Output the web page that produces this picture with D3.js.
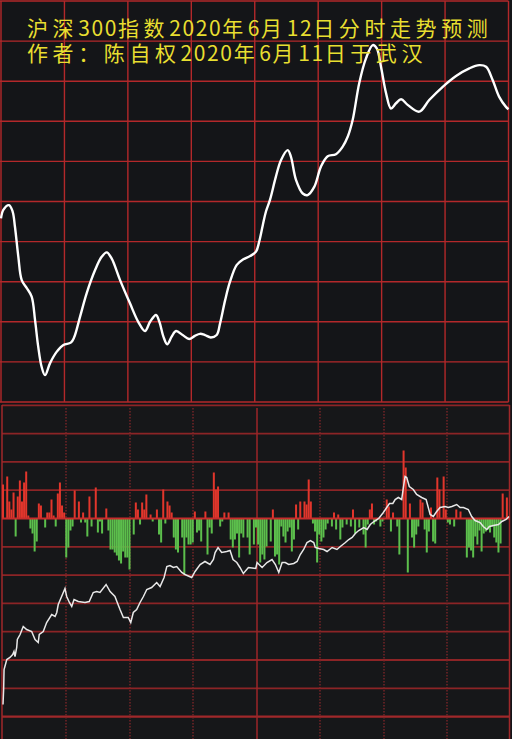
<!DOCTYPE html>
<html><head><meta charset="utf-8">
<script src="https://cdn.jsdelivr.net/npm/d3@7"></script>
<style>html,body{margin:0;padding:0;background:#141518;}svg{display:block;}</style>
</head><body>
<script>
// ---- DATA ----
const titleLines = ["沪深300指数2020年6月12日分时走势预测", "作者：陈自权2020年6月11日于武汉"];
// top panel: forecast curve (minute of session, level in grid units)
const curveMinutes = [0,1.1,3.8,5.5,6.6,8.2,9.8,12.2,14.5,16.1,17.6,19.2,20.8,23.2,26.3,29.5,33,34.5,37.4,40.5,44.5,47.6,50,52.3,56.3,61,64.9,68.1,70.5,73.3,74.9,76.8,78.6,80.7,82.8,85.9,89,91.7,94.1,96.5,99.2,102,103.6,106,108.3,111.5,114.6,117.8,120.6,122.1,123.8,125.3,127.2,130,132.4,135.6,137.1,139.5,142.7,145,148.2,151.3,154.5,158.4,161.6,164,166.3,169.4,172.6,175.8,177.7,179.7,182.1,184.4,186.8,189.2,192.3,197.8,202.5,208.9,215.2,221.5,226.2,229.4,232.5,235.6,238.8,240];
const curveValues = [4.58,4.79,4.91,4.75,4.37,3.62,3.04,2.84,2.63,2.04,1.38,0.88,0.67,0.97,1.25,1.42,1.48,1.60,2.13,2.71,3.29,3.62,3.73,3.58,3.04,2.46,2.00,1.77,2.00,2.17,2.00,1.63,1.44,1.63,1.77,1.67,1.57,1.65,1.70,1.67,1.61,1.67,1.96,2.54,3.00,3.42,3.56,3.64,3.75,4.00,4.41,4.75,5.04,5.62,6.03,6.28,6.12,5.54,5.20,5.16,5.37,5.87,6.13,6.18,6.37,6.62,7.03,7.95,8.57,8.90,8.82,8.36,7.70,7.32,7.45,7.55,7.41,7.24,7.53,7.86,8.13,8.32,8.40,8.36,8.03,7.61,7.36,7.30];
// bottom panel: per-minute flow bars
const barMinutes = [0,2,3,4,5,6,7,8,9,10,11,12,13,14,15,16,17,18,20,21,22,23,24,25,26,27,28,29,30,31,32,33,34,36,37,38,39,40,41,42,44,45,46,47,49,50,51,52,53,54,55,56,57,58,59,60,62,63,64,65,66,67,68,70,71,73,74,75,76,77,78,79,80,81,82,83,85,86,87,88,89,90,91,92,93,94,96,97,98,99,100,101,102,103,104,105,107,108,109,110,111,112,113,114,116,117,119,120,121,122,123,124,125,127,128,129,130,131,132,133,134,135,136,137,138,139,140,141,143,144,145,146,147,148,149,150,151,152,153,154,156,157,158,159,160,161,163,165,166,167,169,171,172,173,174,175,176,177,179,180,182,183,184,185,187,188,190,191,192,193,194,195,196,197,198,199,200,201,202,203,204,205,206,207,209,210,211,212,214,215,217,220,221,222,223,224,225,226,227,228,229,230,231,232,233,234,235,236,237,239];
const barValues = [34,42,17,9,26,-18,22,38,17,36,47,3,-10,-15,-33,-23,15,13,-9,6,6,19,3,-8,25,36,13,6,-39,-29,-12,-8,28,17,-4,6,-4,-18,22,-8,31,-14,-3,-15,10,-12,-31,-31,-34,-37,-42,-45,-33,-39,-39,-51,-16,16,9,-6,16,9,24,4,-3,9,-16,-24,29,-5,17,13,6,-19,-31,-34,-19,-56,-19,-26,-26,-24,7,-14,-12,-23,7,-36,-9,-15,46,29,32,-8,-3,6,6,-21,-29,-21,-15,-39,-15,-19,-19,-36,-26,-9,-26,-44,-36,-41,-28,-23,9,-38,-36,-46,-8,-18,-24,-13,-9,-33,-21,14,-11,17,17,14,39,17,-5,-13,-44,-16,-23,-19,-11,-5,-8,6,-11,4,-21,-9,-6,-8,9,-15,-9,-16,-29,-6,9,15,-6,-3,-8,-3,19,12,-13,6,-8,-36,68,51,-54,15,-19,-29,-16,-8,19,16,-11,-34,-13,11,-23,-25,41,29,42,9,-4,-6,-8,9,7,-39,-29,-32,-39,-18,-26,-12,-33,-15,-13,-11,-14,-8,-19,-24,-34,-25,25,21];
// bottom panel: cumulative line
const lineMinutes = [0,0.3,0.5,0.9,1.8,3.3,4.6,5.2,5.7,6.5,6.8,8.1,9.6,11.2,13.6,15.2,16.7,17.2,19.1,20.7,23.1,24.7,25.5,26.2,27.8,29.4,30.2,31.5,32.6,33.7,35.7,38.9,40.9,42.8,44.4,46,48.9,50.8,53.1,54.2,55.5,57.1,59.4,60.6,61.8,63.4,65,66.6,68.2,70.5,72.9,74.5,76.4,77.7,79.2,80.8,82.4,84.8,86.3,89.5,91.1,93.5,95.8,98.2,99.8,100.6,102,103.7,106.1,107.7,109.1,110.9,112.4,114,116.4,119.9,120.5,122.9,125.2,127.6,129.2,130.8,132.4,133.9,135.5,137.9,139.5,141,142.6,144.2,145.8,147.4,148.1,149.8,152.1,153.7,156.1,158.4,160,162.4,164,165.6,167.1,168.7,171.1,172.7,174.2,175.9,178.2,180.4,182,183.3,184.9,186,187.5,189.1,189.9,190.7,191.5,192.7,194.6,196.2,198.6,200.7,202.6,204.1,205.7,207.3,209.7,211.2,212.9,215.2,216.8,218.4,220.7,222.3,223.9,226.3,227.8,229.5,230.7,232.6,235,236.6,238.6,240];
const lineValues = [-186,-171,-151,-148,-141,-139,-136,-133,-138,-129,-121,-116,-108,-111,-113,-121,-124,-116,-113,-104,-96,-98,-94,-86,-78,-70,-78,-84,-88,-81,-83,-84,-83,-74,-73,-74,-66,-73,-78,-84,-91,-99,-99,-104,-94,-91,-84,-78,-71,-69,-64,-68,-59,-48,-47,-49,-48,-54,-56,-59,-53,-46,-43,-46,-41,-34,-29,-34,-33,-32,-41,-44,-49,-55,-49,-50,-44,-49,-44,-41,-46,-54,-44,-44,-46,-45,-43,-36,-31,-24,-22,-24,-29,-30,-31,-33,-29,-31,-28,-24,-21,-19,-15,-12,-9,-11,-6,-3,0,6,11,15,15,19,21,19,31,42,41,32,29,24,21,19,4,2,7,11,12,11,12,14,11,11,9,2,-2,-4,-8,-11,-8,-7,-6,-3,-1,2];
const timeTicks = [0,30,60,90,120,150,180,210,240];
const topRows = [0,1,2,3,4,5,6,7,8,9,10];
const bottomRows = [-8,-7,-6,-5,-4,-3,-2,-1,0,1,2,3,4];

// ---- LAYOUT ----
const W = 512, H = 739;
const svg = d3.select("body").append("svg").attr("width", W).attr("height", H);
svg.append("rect").attr("width", W).attr("height", H).attr("fill", "#141518");

const xT = d3.scaleLinear().domain([0, 240]).range([1, 508.5]);
const yT = d3.scaleLinear().domain([0, 10]).range([402, 1]);
const xB = d3.scaleLinear().domain([0, 240]).range([3, 509]);
const xG = d3.scaleLinear().domain([0, 240]).range([2.5, 511]);
const rowStep = 28.3;
const yB = d3.scaleLinear().domain([0, rowStep]).range([518.5, 518.5 - 28.3]);

const gTop = svg.append("g");
gTop.selectAll("line.h").data(topRows).enter().append("line")
  .attr("x1", 0).attr("x2", xT(240)).attr("y1", d => yT(d)).attr("y2", d => yT(d))
  .attr("stroke", "#b3282a").attr("stroke-width", 1.4);
gTop.selectAll("line.v").data(timeTicks).enter().append("line")
  .attr("x1", d => xT(d)).attr("x2", d => xT(d)).attr("y1", yT(10)).attr("y2", yT(0))
  .attr("stroke", "#b3282a").attr("stroke-width", 1.4);

const curve = d3.line().x((d, i) => xT(curveMinutes[i])).y(d => yT(d)).curve(d3.curveCatmullRom.alpha(0.5));
gTop.append("path").datum(curveValues).attr("d", curve)
  .attr("fill", "none").attr("stroke", "#ffffff").attr("stroke-width", 2.4).attr("stroke-linejoin", "round");

// bottom panel
const gB = svg.append("g");
const bTop = 405, bBot = 739;
gB.append("rect").attr("x", 2).attr("y", bTop).attr("width", 507.5).attr("height", bBot - bTop).attr("fill", "#161719");
gB.selectAll("line.h").data(bottomRows.filter(r => yB(r * rowStep) >= bTop - 1 && yB(r * rowStep) <= bBot && r !== 0)).enter().append("line")
  .attr("x1", 2).attr("x2", 509.5).attr("y1", d => yB(d * rowStep)).attr("y2", d => yB(d * rowStep))
  .attr("stroke", d => d === -7 ? "#a0282a" : "#8c2426").attr("stroke-width", d => d === -7 ? 2.4 : 1.8);
gB.selectAll("line.v").data(timeTicks.slice(1, 8)).enter().append("line")
  .attr("x1", d => Math.round(xG(d))).attr("x2", d => Math.round(xG(d)))
  .attr("y1", bTop + 3).attr("y2", bBot)
  .attr("stroke", d => d === 120 ? "#9c2628" : "#7a2628").attr("stroke-width", d => d === 120 ? 1.5 : 1.4)
  .attr("stroke-dasharray", d => d === 120 ? null : "1.5,1.5");
gB.append("line").attr("x1", 2).attr("x2", 2).attr("y1", bTop).attr("y2", bBot).attr("stroke", "#a0282a").attr("stroke-width", 1.5);
gB.append("line").attr("x1", 509.5).attr("x2", 509.5).attr("y1", bTop).attr("y2", bBot).attr("stroke", "#a0282a").attr("stroke-width", 1.5);

gB.selectAll("rect.bar").data(barValues).enter().append("rect")
  .attr("x", (d, i) => xB(barMinutes[i]) - 1).attr("width", 2)
  .attr("y", d => d >= 0 ? yB(d) : yB(0)).attr("height", d => Math.abs(yB(d) - yB(0)))
  .attr("fill", d => d >= 0 ? "#e2362c" : "#5cbf4c");
gB.append("line").attr("x1", 2).attr("x2", 509.5).attr("y1", yB(0)).attr("y2", yB(0))
  .attr("stroke", "#c82c2c").attr("stroke-width", 2);

const ln = d3.line().x((d, i) => xB(lineMinutes[i])).y(d => yB(d));
gB.append("path").datum(lineValues).attr("d", ln)
  .attr("fill", "none").attr("stroke", "#e8e8e8").attr("stroke-width", 1.5).attr("stroke-linejoin", "miter");

// title text
const tg = svg.append("g");
titleLines.forEach((s, li) => {
  const t = tg.append("text").attr("x", 27).attr("y", 36 + li * 25)
    .attr("fill", "#e8df30").attr("font-family", "'Noto Sans CJK SC', sans-serif").attr("font-size", 21);
  const runs = s.match(/[0-9]+|[^0-9]+/g);
  runs.forEach(r => {
    t.append("tspan").text(r).attr("letter-spacing", /[0-9]/.test(r) ? 1.6 : 4.6);
  });
});
</script>
</body></html>
